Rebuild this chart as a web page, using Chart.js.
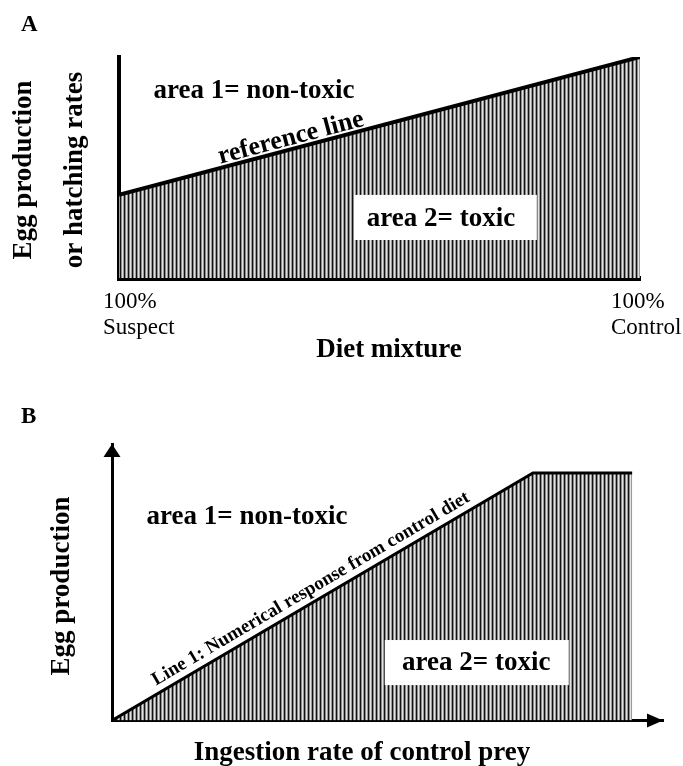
<!DOCTYPE html>
<html>
<head>
<meta charset="utf-8">
<script src="https://cdn.jsdelivr.net/npm/chart.js@4.4.1/dist/chart.umd.min.js"></script>
<style>
  body { margin: 0; background: #fff; }
  .panel { position: absolute; left: 0; width: 683px; }
</style>
</head>
<body>
<div class="panel" style="top:0;height:380px"><canvas id="chartA" width="683" height="380"></canvas></div>
<div class="panel" style="top:380px;height:386px"><canvas id="chartB" width="683" height="386"></canvas></div>
<script>
// Panel A: diet mixture (0 = 100% suspect, 100 = 100% control)
const dietMixA = [0, 100];
const eggRateA = [37.6, 100];
const tickValsA = [0, 100];
const tickLabelsA = [['100%', 'Suspect'], ['100%', 'Control']];

// Panel B: ingestion rate of control prey vs egg production
const ingestB = [0, 76.4, 94.4];
const eggProdB = [0, 89.5, 89.5];

const SERIF = '"Liberation Serif", "Times New Roman", serif';

// vertical hatching used for the "toxic" area
function makeHatch() {
    const c = document.createElement('canvas');
    c.width = 4; c.height = 4;
    const g = c.getContext('2d');
    const cols = ['#111', '#8a8a8a', '#e2e2e2', '#9a9a9a'];
    cols.forEach((col, i) => { g.fillStyle = col; g.fillRect(i, 0, 1, 4); });
    return g.createPattern(c, 'repeat');
}
const hatch = makeHatch();

function axis(min, max, bw) {
    return {
        type: 'linear', min: min, max: max,
        grid: { display: false, drawTicks: false },
        ticks: { display: false },
        border: { display: true, color: '#000', width: bw }
    };
}

function text(ctx, s, x, y, size, bold, align, rot) {
    ctx.save();
    ctx.translate(x, y);
    if (rot) ctx.rotate(rot);
    ctx.font = (bold ? 'bold ' : '') + size + 'px ' + SERIF;
    ctx.fillStyle = '#000';
    ctx.textAlign = align || 'center';
    ctx.textBaseline = 'middle';
    ctx.fillText(s, 0, 0);
    ctx.restore();
}

function lineAngle(chart, i0, i1) {
    const pts = chart.getDatasetMeta(0).data;
    return Math.atan2(pts[i1].y - pts[i0].y, pts[i1].x - pts[i0].x);
}

function toPoints(xs, ys) {
    return xs.map((v, i) => ({ x: v, y: ys[i] }));
}

// ---------- Panel A ----------
const labelsA = {
    id: 'labelsA',
    afterDatasetsDraw(chart) {
        const { ctx, scales: { x, y } } = chart;
        // white box behind "area 2"
        const bx0 = x.getPixelForValue(45.1), bx1 = x.getPixelForValue(80.2);
        const by0 = y.getPixelForValue(37.6), by1 = y.getPixelForValue(17.2);
        ctx.fillStyle = '#fff';
        ctx.fillRect(bx0, by0, bx1 - bx0, by1 - by0);
        text(ctx, 'area 2= toxic', x.getPixelForValue(61.8), y.getPixelForValue(26.7), 27, true);
        text(ctx, 'area 1= non-toxic', x.getPixelForValue(25.9), y.getPixelForValue(84.6), 27, true);
        text(ctx, 'reference line', x.getPixelForValue(33), y.getPixelForValue(63.3), 26, true, 'center', lineAngle(chart, 0, 1));
    },
    afterDraw(chart) {
        const { ctx, scales: { x } } = chart;
        const dx = [-16, -29];
        tickValsA.forEach((v, i) => {
            const px = x.getPixelForValue(v) + dx[i];
            text(ctx, tickLabelsA[i][0], px, 302, 23, false, 'left');
            text(ctx, tickLabelsA[i][1], px, 328, 23, false, 'left');
        });
        text(ctx, 'Diet mixture', 389, 350, 27, true);
        text(ctx, 'Egg production', 24, 170, 27, true, 'center', -Math.PI / 2);
        text(ctx, 'or hatching rates', 75, 170, 27, true, 'center', -Math.PI / 2);
        text(ctx, 'A', 21, 25, 23, true, 'left');
    }
};

new Chart(document.getElementById('chartA'), {
    type: 'line',
    data: {
        datasets: [{
            data: toPoints(dietMixA, eggRateA),
            borderColor: '#000',
            borderWidth: 4,
            backgroundColor: hatch,
            fill: 'origin',
            pointRadius: 0,
            tension: 0
        }]
    },
    options: {
        responsive: false,
        animation: false,
        layout: { padding: { left: 119, right: 43, top: 57, bottom: 102 } },
        plugins: { legend: { display: false }, tooltip: { enabled: false } },
        scales: { x: axis(0, 100, 5), y: axis(0, 100, 4) }
    },
    plugins: [labelsA]
});

// ---------- Panel B ----------
const labelsB = {
    id: 'labelsB',
    afterDatasetsDraw(chart) {
        const { ctx, scales: { x, y } } = chart;
        const bx0 = x.getPixelForValue(49.5), bx1 = x.getPixelForValue(82.9);
        const by0 = y.getPixelForValue(29.1), by1 = y.getPixelForValue(12.8);
        ctx.fillStyle = '#fff';
        ctx.fillRect(bx0, by0, bx1 - bx0, by1 - by0);
        text(ctx, 'area 2= toxic', x.getPixelForValue(66.1), y.getPixelForValue(20.8), 27, true);
        text(ctx, 'area 1= non-toxic', x.getPixelForValue(24.5), y.getPixelForValue(73.6), 27, true);
        text(ctx, 'Line 1: Numerical response from control diet', x.getPixelForValue(36.1), y.getPixelForValue(47.6), 19, true, 'center', lineAngle(chart, 0, 1));
    },
    afterDraw(chart) {
        const { ctx, chartArea: a } = chart;
        ctx.fillStyle = '#000';
        // arrow heads on both axes
        ctx.beginPath();
        ctx.moveTo(a.left, a.top);
        ctx.lineTo(a.left - 8.5, a.top + 13);
        ctx.lineTo(a.left + 8.5, a.top + 13);
        ctx.closePath();
        ctx.fill();
        ctx.beginPath();
        ctx.moveTo(a.right, a.bottom);
        ctx.lineTo(a.right - 16, a.bottom - 7);
        ctx.lineTo(a.right - 16, a.bottom + 7);
        ctx.closePath();
        ctx.fill();
        text(ctx, 'Ingestion rate of control prey', 362, 373, 27, true);
        text(ctx, 'Egg production', 62, 206, 27, true, 'center', -Math.PI / 2);
        text(ctx, 'B', 21, 37, 23, true, 'left');
    }
};

new Chart(document.getElementById('chartB'), {
    type: 'line',
    data: {
        datasets: [{
            data: toPoints(ingestB, eggProdB),
            borderColor: '#000',
            borderWidth: 3,
            backgroundColor: hatch,
            fill: 'origin',
            pointRadius: 0,
            tension: 0
        }]
    },
    options: {
        responsive: false,
        animation: false,
        layout: { padding: { left: 112, right: 20, top: 64, bottom: 45.5 } },
        plugins: { legend: { display: false }, tooltip: { enabled: false } },
        scales: { x: axis(0, 100, 3), y: axis(0, 100, 3) }
    },
    plugins: [labelsB]
});
</script>
</body>
</html>
